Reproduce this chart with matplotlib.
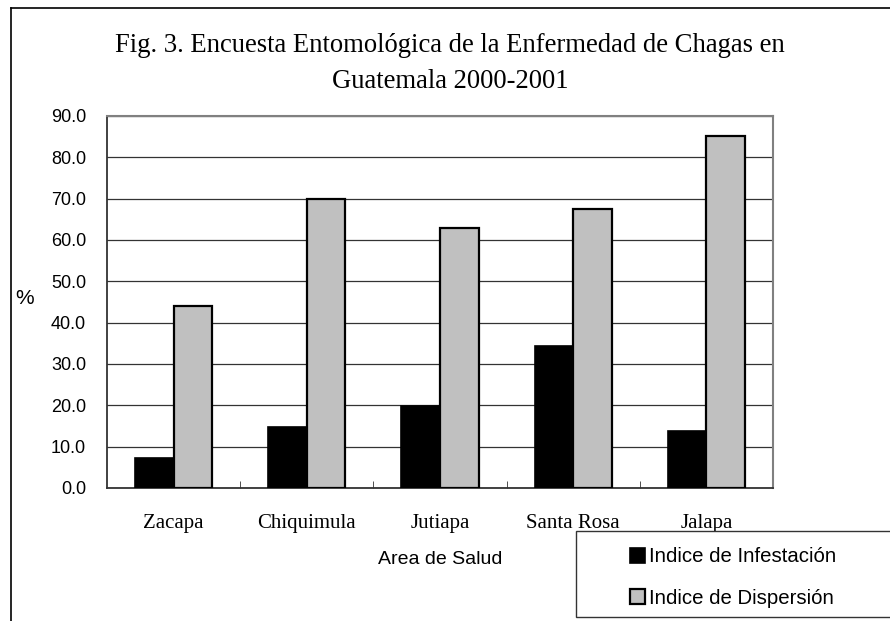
import matplotlib
matplotlib.use("Agg")
import matplotlib.pyplot as plt
import numpy as np
from matplotlib.patches import Rectangle
from matplotlib.lines import Line2D

categories = ["Zacapa", "Chiquimula", "Jutiapa", "Santa Rosa", "Jalapa"]
infestacion = [7.3, 14.8, 19.9, 34.4, 13.8]
dispersion = [44.1, 69.9, 62.9, 67.6, 85.2]
series_names = ["Indice de Infestación", "Indice de Dispersión"]
yticks = [0, 10, 20, 30, 40, 50, 60, 70, 80, 90]

W, H = 890, 621
fig = plt.figure(figsize=(W / 100, H / 100), dpi=100)

def fx(px):
    return px / W

def fy(py):
    return 1 - py / H

ax = fig.add_axes([fx(107), fy(488), fx(773) - fx(107), fy(116) - fy(488)])

x = np.arange(len(categories))
bw = 0.29
b1 = ax.bar(x - bw / 2, infestacion, bw, color="black", edgecolor="black", linewidth=1.2, zorder=3)
b2 = ax.bar(x + bw / 2, dispersion, bw, color="#C0C0C0", edgecolor="black", linewidth=1.6, zorder=3)

ax.set_xlim(-0.5, len(categories) - 0.5)
ax.set_ylim(0, 90)
ax.set_yticks(yticks)
ax.set_yticklabels([f"{v:.1f}" for v in yticks], fontfamily="Liberation Sans", fontsize=13)
ax.tick_params(axis="y", length=0, pad=15)
ax.yaxis.grid(True, color="#333333", linewidth=0.9, zorder=0)
ax.set_axisbelow(True)

ax.set_xticks(x)
ax.set_xticklabels(categories, fontfamily="Liberation Serif", fontsize=15)
ax.tick_params(axis="x", length=0, pad=19)
ax.set_xticks(np.arange(0.5, len(categories) - 0.5, 1), minor=True)
ax.tick_params(axis="x", which="minor", direction="in", length=5, color="#333333")

for s in ["left", "bottom"]:
    ax.spines[s].set_color("#333333")
    ax.spines[s].set_linewidth(1.3)
for s in ["top", "right"]:
    ax.spines[s].set_color("#808080")
    ax.spines[s].set_linewidth(1.5)

fig.text(fx(450), fy(46), "Fig. 3. Encuesta Entomológica de la Enfermedad de Chagas en",
         ha="center", va="center", fontfamily="Liberation Serif", fontsize=19.2)
fig.text(fx(450), fy(81), "Guatemala 2000-2001",
         ha="center", va="center", fontfamily="Liberation Serif", fontsize=19.2)

fig.text(fx(440), fy(559), "Area de Salud", ha="center", va="center",
         fontfamily="Liberation Sans", fontsize=14)
fig.text(fx(25), fy(298), "%", ha="center", va="center",
         fontfamily="Liberation Sans", fontsize=15)

# figure border (left and top)
fig.add_artist(Line2D([fx(11), fx(11)], [fy(8), 0], color="black", linewidth=1.2))
fig.add_artist(Line2D([fx(11), 1], [fy(8), fy(8)], color="black", linewidth=1.2))

# legend box
fig.add_artist(Rectangle((fx(576), fy(617)), 1.0 - fx(576) + 0.01, fy(531) - fy(617),
                         transform=fig.transFigure, facecolor="white", edgecolor="#333333",
                         linewidth=1.0))
leg = fig.legend([b1, b2], series_names, loc="center left",
                 bbox_to_anchor=(fx(630), fy(577.5)), frameon=False,
                 prop={"family": "Liberation Sans", "size": 14.7},
                 handlelength=0.75, handleheight=0.75, handletextpad=0.2,
                 labelspacing=1.1, borderaxespad=0, borderpad=0)

fig.savefig("out.png", dpi=100)
